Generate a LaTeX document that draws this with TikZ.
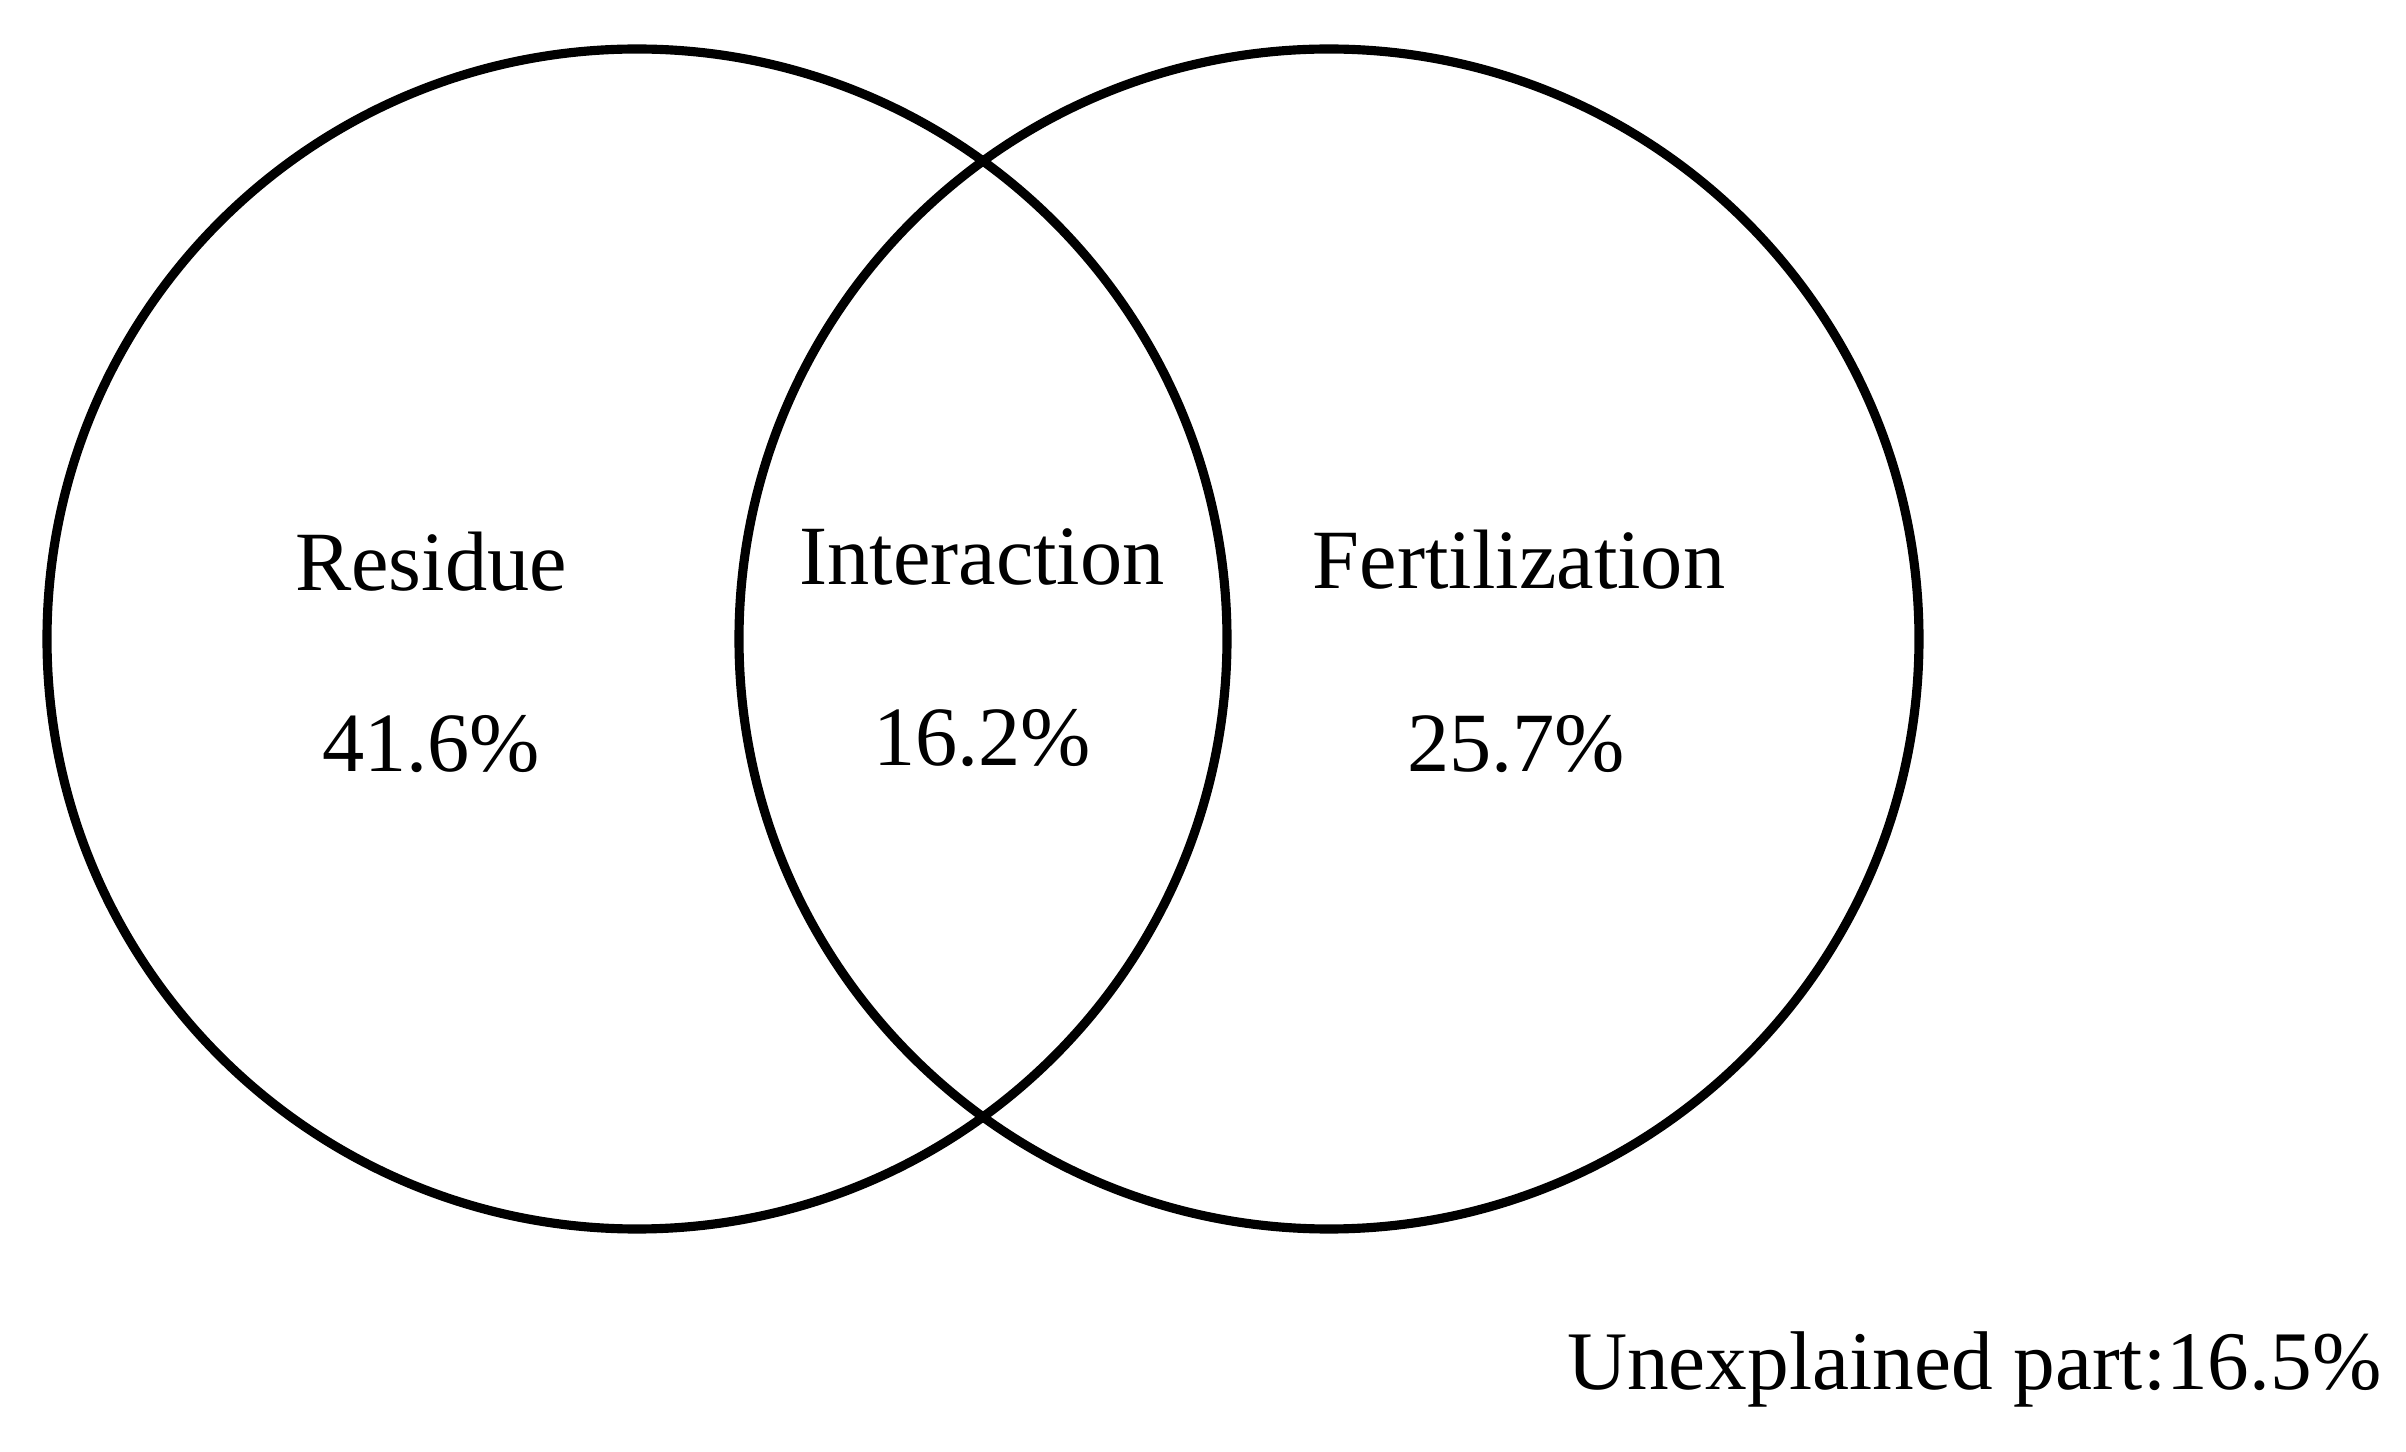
\documentclass[tikz,border=0pt]{standalone}
\usepackage{fontspec}
\setmainfont{Liberation Serif}
\tikzset{part/.style={black,draw=black,line width=2.6pt}}
\tikzset{share/.style={black,anchor=base,inner sep=0pt,font=\fontsize{24}{28}\selectfont}}
\begin{document}
\begin{tikzpicture}
            \useasboundingbox (0,0) rectangle (24.06,14.51);
            \node[part,circle,minimum size=11.8cm] (residue) at (6.37, 8.12) {};
            \node[part,circle,minimum size=11.8cm] (fert) at (13.29, 8.12) {};
            \node[share] (resname) at (4.31, 8.60) {Residue};
            \node[share] (resval) at (4.31, 6.79) {41.6\%};
            \node[share] (intname) at (9.82, 8.66) {Interaction};
            \node[share] (intval) at (9.82, 6.85) {16.2\%};
            \node[share] (fertname) at (15.19, 8.62) {Fertilization};
            \node[share] (fertval) at (15.16, 6.79) {25.7\%};
            \node[share,anchor=base east] (unexpl) at (23.82, 0.62) {\fontsize{23.7}{28}\selectfont Unexplained part:16.5\%};
            \end{tikzpicture}
\end{document}
